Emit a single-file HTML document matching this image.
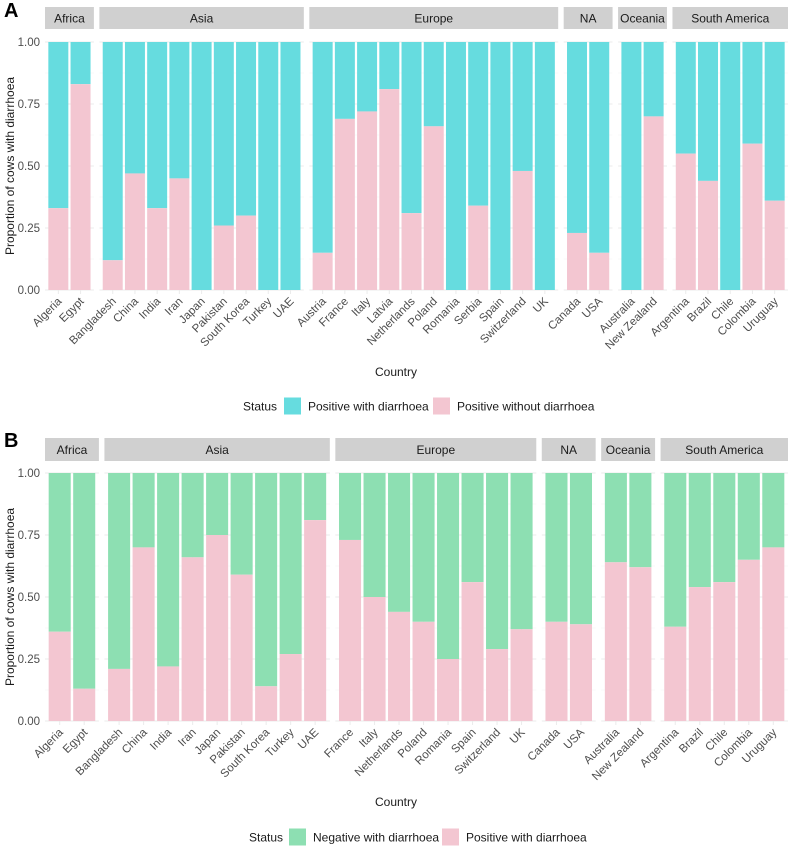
<!DOCTYPE html>
<html><head><meta charset="utf-8"><style>
body{margin:0;background:#fff}
svg{display:block;font-family:"Liberation Sans",sans-serif}
</style></head><body>
<svg id="chart" width="790" height="847" viewBox="0 0 790 847" xmlns="http://www.w3.org/2000/svg"></svg>
<script>
const regions=["Africa","Asia","Europe","NA","Oceania","South America"];
const countriesA=[["Algeria","Egypt"],["Bangladesh","China","India","Iran","Japan","Pakistan","South Korea","Turkey","UAE"],["Austria","France","Italy","Latvia","Netherlands","Poland","Romania","Serbia","Spain","Switzerland","UK"],["Canada","USA"],["Australia","New Zealand"],["Argentina","Brazil","Chile","Colombia","Uruguay"]];
const withoutA=[[0.33,0.83],[0.12,0.47,0.33,0.45,0,0.26,0.30,0,0],[0.15,0.69,0.72,0.81,0.31,0.66,0,0.34,0,0.48,0],[0.23,0.15],[0,0.70],[0.55,0.44,0,0.59,0.36]];
const countriesB=[["Algeria","Egypt"],["Bangladesh","China","India","Iran","Japan","Pakistan","South Korea","Turkey","UAE"],["France","Italy","Netherlands","Poland","Romania","Spain","Switzerland","UK"],["Canada","USA"],["Australia","New Zealand"],["Argentina","Brazil","Chile","Colombia","Uruguay"]];
const positiveB=[[0.36,0.13],[0.21,0.70,0.22,0.66,0.75,0.59,0.14,0.27,0.81],[0.73,0.50,0.44,0.40,0.25,0.56,0.29,0.37],[0.40,0.39],[0.64,0.62],[0.38,0.54,0.56,0.65,0.70]];
const yTicks=["0.00","0.25","0.50","0.75","1.00"];
const svg=document.getElementById('chart');
const NS="http://www.w3.org/2000/svg";
function mk(tag,attrs,parent){const e=document.createElementNS(NS,tag);for(const k in attrs)e.setAttribute(k,attrs[k]);(parent||svg).appendChild(e);return e;}
function panel(cfg){
  const g=mk('g',{});
  
  
  const x0=45,x1=788,gap=5.5;
  const units=cfg.countries.reduce((s,c)=>s+c.length+0.2,0);
  const u=(x1-x0-gap*(regions.length-1))/units;
  const y=v=>cfg.yb+(cfg.yt-cfg.yb)*v;
  const t=mk('text',{x:4,y:cfg.top+17,'font-size':20,'font-weight':'bold',fill:'#000'},g);t.textContent=cfg.letter;
  
  yTicks.forEach(s=>{const v=parseFloat(s);const tt=mk('text',{x:40,y:y(v)+4,'text-anchor':'end','font-size':11.5,fill:'#4d4d4d'},g);tt.textContent=s;
    });
  const yt=mk('text',{transform:`translate(14,${(cfg.yt+cfg.yb)/2}) rotate(-90)`,'text-anchor':'middle','font-size':12,fill:'#1a1a1a'},g);yt.textContent='Proportion of cows with diarrhoea';
  
  let px=x0;
  regions.forEach((r,ri)=>{
    const cs=cfg.countries[ri],vals=cfg.values[ri];const w=(cs.length+0.2)*u;
    const st=mk('rect',{x:px,y:cfg.stripY,width:w,height:cfg.stripH,fill:'#d0d0d0'},g);
    
    const sl=mk('text',{x:px+w/2,y:cfg.stripY+cfg.stripH/2+4.5,'text-anchor':'middle','font-size':12,fill:'#1a1a1a'},g);sl.textContent=r;
    
    for(let k=0;k<=8;k++){mk('line',{x1:px,x2:px+w,y1:y(k/8),y2:y(k/8),stroke:k%2?'#f3f3f3':'#ebebeb','stroke-width':k%2?0.5:1},g);}
    cs.forEach((c,i)=>{
      const cx=px+(0.6+i)*u;
      mk('line',{x1:cx,x2:cx,y1:cfg.yt,y2:cfg.yb+4,stroke:'#ebebeb','stroke-width':1},g);
      const v=vals[i],bw=0.9*u;
      const top=mk('rect',{x:cx-bw/2,y:y(1),width:bw,height:y(v)-y(1),fill:cfg.topColor},g);
      
      const bot=mk('rect',{x:cx-bw/2,y:y(v),width:bw,height:y(0)-y(v),fill:'#f3c6d1'},g);
      
      const lb=mk('text',{transform:`translate(${cx+4},${cfg.yb+12}) rotate(-45)`,'text-anchor':'end','font-size':11.5,fill:'#4d4d4d'},g);lb.textContent=c;
      
    });
    px+=w+gap;
  });
  const xt=mk('text',{x:396,y:cfg.titleY,'text-anchor':'middle','font-size':12,fill:'#1a1a1a'},g);xt.textContent='Country';
  
  const lg=mk('g',{},g);
  const ls=mk('text',{x:cfg.leg[0],y:cfg.legY+4.5,'font-size':12,fill:'#1a1a1a'},lg);ls.textContent='Status';
  [[cfg.leg[1],cfg.topColor,cfg.legText[0]],[cfg.leg[2],'#f3c6d1',cfg.legText[1]]].forEach(([lx,col,txt])=>{
    const k=mk('rect',{x:lx,y:cfg.legY-8.5,width:17,height:17,fill:col},lg);
    const tx=mk('text',{x:lx+24,y:cfg.legY+4.5,'font-size':12,fill:'#1a1a1a'},lg);tx.textContent=txt;
    
  });
}
panel({name:'panel-a',letter:'A',top:0,countries:countriesA,values:withoutA,yt:42,yb:290,stripY:7,stripH:22,topColor:'#66dcdf',titleY:376,legY:406,leg:[243,284,433],legText:['Positive with diarrhoea','Positive without diarrhoea']});
panel({name:'panel-b',letter:'B',top:430,countries:countriesB,values:positiveB,yt:473,yb:721,stripY:438,stripH:23,topColor:'#8ddfb2',titleY:806,legY:837,leg:[249,289,442],legText:['Negative with diarrhoea','Positive with diarrhoea']});
</script>
</body></html>
